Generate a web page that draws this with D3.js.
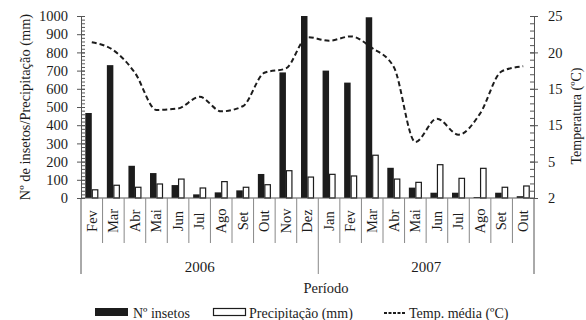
<!DOCTYPE html>
<html>
<head>
<meta charset="utf-8">
<script src="https://cdn.jsdelivr.net/npm/d3@7"></script>
<style>
  body { margin: 0; background: #fff; }
  svg { display: block; font-family: 'Liberation Serif', 'Times New Roman', serif; }
</style>
</head>
<body>
<svg id="chart" width="586" height="320"></svg>
<script>
// Data
const months2006 = ['Fev', 'Mar', 'Abr', 'Mai', 'Jun', 'Jul', 'Ago', 'Set', 'Out', 'Nov', 'Dez'];
const months2007 = ['Jan', 'Fev', 'Mar', 'Abr', 'Mai', 'Jun', 'Jul', 'Ago', 'Set', 'Out'];
const years = ['2006', '2007'];

const insetos = [467, 730, 177, 137, 71, 20, 31, 42, 132, 690, 1000,
                 700, 634, 993, 166, 57, 29, 29, 5, 29, 10];
const precipitacao = [45, 70, 59, 77, 104, 55, 90, 59, 73, 150, 115,
                      130, 121, 235, 104, 86, 183, 108, 163, 59, 66];
// position on the right axis (tick values 0..25)
const temperatura = [21.4, 20.3, 17.2, 12.1, 12.3, 13.9, 11.9, 12.6, 17.2, 17.8, 22.1,
                     21.6, 22.2, 20.6, 18.0, 7.7, 10.9, 8.7, 11.6, 17.4, 18.1];

const leftTicks = [0, 100, 200, 300, 400, 500, 600, 700, 800, 900, 1000];
const rightTicks = [0, 5, 10, 15, 20, 25];
const rightTickLabels = ['2', '5', '15', '15', '20', '25'];

const color = { ink: '#1c1c1c', axis: '#555', sep: '#888' };

const svg = d3.select('#chart');
const padding = { top: 16, right: 52, bottom: 122, left: 81 };
const width = 586 - padding.left - padding.right;
const height = 320 - padding.top - padding.bottom;

const categories = months2006.map(m => '2006-' + m).concat(months2007.map(m => '2007-' + m));
const rows = categories.map((key, i) => ({
  key,
  month: key.slice(5),
  insetos: insetos[i],
  prec: precipitacao[i],
  temp: temperatura[i]
}));

const x = d3.scaleBand().domain(categories).range([0, width]);
const xSub = d3.scaleBand().domain(['insetos', 'prec']).range([0, x.bandwidth()]).paddingOuter(0.66);
const y = d3.scaleLinear().domain([0, 1000]).range([height, 0]);
const y2 = d3.scaleLinear().domain([0, 25]).range([height, 0]);

const canvas = svg.append('g').attr('transform', `translate(${padding.left}, ${padding.top})`);

// Bars
const group = canvas.selectAll('g.cat').data(rows).enter()
  .append('g')
  .attr('class', 'cat')
  .attr('transform', d => `translate(${x(d.key)}, 0)`);

group.append('rect')
  .attr('x', xSub('insetos'))
  .attr('y', d => y(d.insetos))
  .attr('width', xSub.bandwidth())
  .attr('height', d => height - y(d.insetos))
  .attr('fill', color.ink);

group.append('rect')
  .attr('x', xSub('prec') + 0.5)
  .attr('y', d => y(d.prec))
  .attr('width', xSub.bandwidth() - 1)
  .attr('height', d => height - y(d.prec))
  .attr('fill', '#fff')
  .attr('stroke', color.ink)
  .attr('stroke-width', 1.2);

// Temperature line
const line = d3.line()
  .curve(d3.curveMonotoneX)
  .x(d => x(d.key) + x.bandwidth() / 2)
  .y(d => y2(d.temp));

canvas.append('path')
  .datum(rows)
  .attr('d', line)
  .attr('fill', 'none')
  .attr('stroke', color.ink)
  .attr('stroke-width', 2)
  .attr('stroke-dasharray', '5,3');

// Left axis (major ticks cross, minor ticks inside)
const leftAxis = canvas.append('g').attr('class', 'axis left');
leftAxis.call(d3.axisLeft(y).tickValues(d3.range(0, 1001, 20)).tickSize(-4).tickFormat(''));
leftAxis.append('g').call(d3.axisLeft(y).tickValues(leftTicks).tickSizeInner(4).tickSizeOuter(0).tickPadding(9)
    .tickFormat(d3.format('d')))
  .call(g => g.selectAll('.tick line').attr('x2', 4).attr('x1', -4))
  .call(g => g.select('.domain').remove());

// Right axis
const rightAxis = canvas.append('g').attr('class', 'axis right').attr('transform', `translate(${width}, 0)`);
rightAxis.call(d3.axisRight(y2).tickValues(d3.range(0, 26, 1)).tickSize(-4).tickFormat(''));
rightAxis.append('g').call(d3.axisRight(y2).tickValues(rightTicks).tickSizeInner(4).tickSizeOuter(0).tickPadding(10)
    .tickFormat((d, i) => rightTickLabels[i]))
  .call(g => g.selectAll('.tick line').attr('x1', -4).attr('x2', 4))
  .call(g => g.select('.domain').remove());

svg.selectAll('.axis path.domain').attr('stroke', color.axis);
svg.selectAll('.axis line').attr('stroke', color.axis);
svg.selectAll('.axis text')
  .attr('font-family', 'Liberation Serif, serif')
  .attr('font-size', 14.5)
  .attr('fill', color.ink);

// Bottom axis with month labels and separators
const bottom = canvas.append('g').attr('class', 'bottom').attr('transform', `translate(0, ${height})`);
bottom.append('line')
  .attr('x1', 0).attr('x2', width)
  .attr('stroke', color.axis);

bottom.selectAll('line.sep').data(categories.slice(1)).enter()
  .append('line')
  .attr('class', 'sep')
  .attr('x1', d => x(d)).attr('x2', d => x(d))
  .attr('y1', 0)
  .attr('y2', d => (d === '2007-Jan' ? 76 : 45))
  .attr('stroke', color.sep);

// long vertical ends of left/right axes
[0, width].forEach(px => {
  bottom.append('line')
    .attr('x1', px).attr('x2', px)
    .attr('y1', 0).attr('y2', 76)
    .attr('stroke', color.axis);
});

bottom.selectAll('text.month').data(rows).enter()
  .append('text')
  .attr('class', 'month')
  .attr('transform', d => `translate(${x(d.key) + x.bandwidth() / 2}, 23) rotate(-90)`)
  .attr('text-anchor', 'middle')
  .attr('dy', '0.33em')
  .attr('font-size', 14.5)
  .attr('fill', color.ink)
  .text(d => d.month);

// Year labels
bottom.selectAll('text.year').data(years).enter()
  .append('text')
  .attr('class', 'year')
  .attr('x', d => {
    const keys = categories.filter(k => k.startsWith(d));
    return (x(keys[0]) + x(keys[keys.length - 1]) + x.bandwidth()) / 2;
  })
  .attr('y', 74)
  .attr('text-anchor', 'middle')
  .attr('font-size', 15)
  .attr('fill', color.ink)
  .text(d => d);

// Axis titles
svg.append('text')
  .attr('transform', `translate(326, 293)`)
  .attr('text-anchor', 'middle')
  .attr('font-size', 14.5)
  .attr('fill', color.ink)
  .text('Período');

svg.append('text')
  .attr('transform', `translate(30, ${padding.top + height / 2}) rotate(-90)`)
  .attr('text-anchor', 'middle')
  .attr('font-size', 14.4)
  .attr('fill', color.ink)
  .text('Nº de insetos/Precipitação (mm)');

svg.append('text')
  .attr('transform', `translate(581, 116) rotate(-90)`)
  .attr('text-anchor', 'middle')
  .attr('font-size', 14)
  .attr('fill', color.ink)
  .text('Temperatura (ºC)');

// Legend
const legend = svg.append('g').attr('class', 'legend');
legend.append('rect').attr('x', 95).attr('y', 308).attr('width', 33).attr('height', 8).attr('fill', color.ink);
legend.append('text').attr('x', 133).attr('y', 318).attr('font-size', 14).attr('fill', color.ink).text('Nº insetos');
legend.append('rect').attr('x', 213.5).attr('y', 308.5).attr('width', 32).attr('height', 7)
  .attr('fill', '#fff').attr('stroke', color.ink).attr('stroke-width', 1.2);
legend.append('text').attr('x', 249).attr('y', 318).attr('font-size', 14).attr('fill', color.ink).text('Precipitação (mm)');
legend.append('line').attr('x1', 384).attr('x2', 405).attr('y1', 313).attr('y2', 313)
  .attr('stroke', color.ink).attr('stroke-width', 2).attr('stroke-dasharray', '3,1.5');
legend.append('text').attr('x', 409).attr('y', 318).attr('font-size', 14).attr('fill', color.ink).text('Temp. média (ºC)');
</script>
</body>
</html>
